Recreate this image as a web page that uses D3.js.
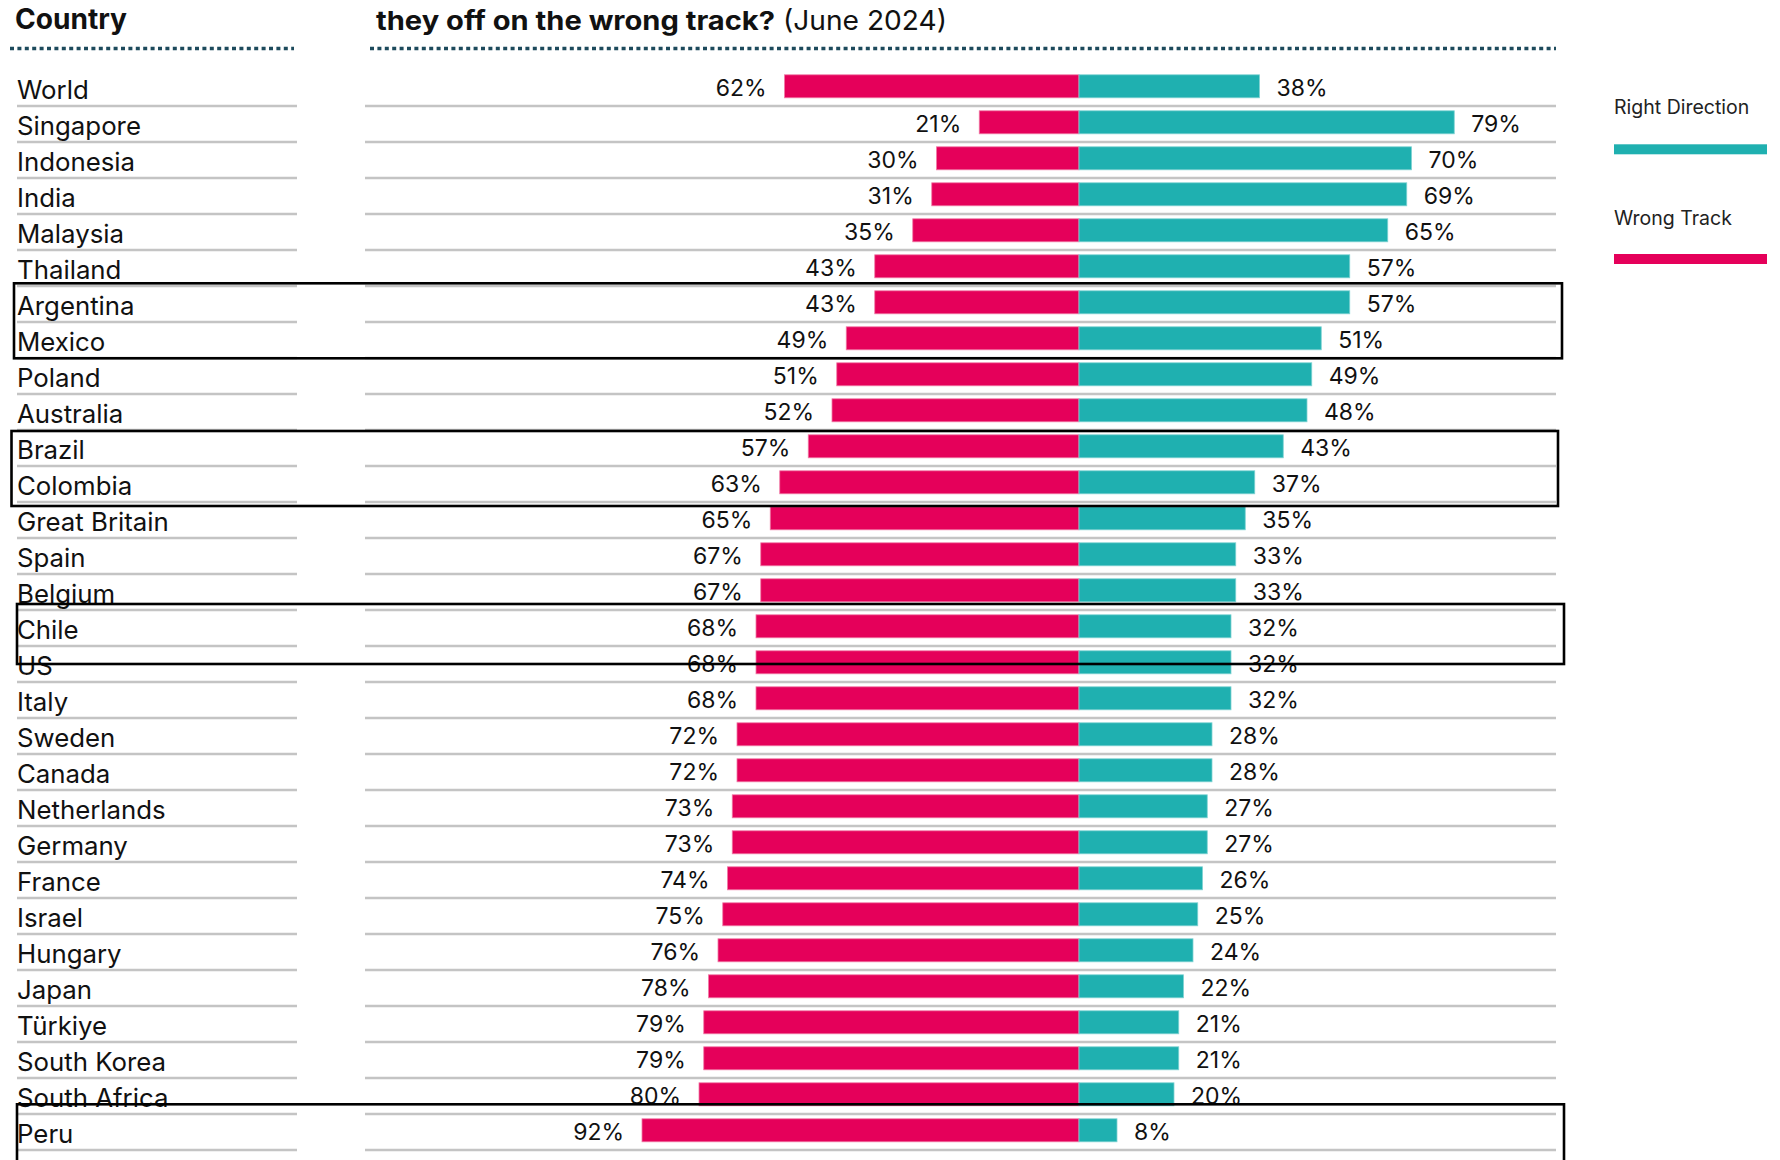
<!DOCTYPE html>
<html>
<head>
<meta charset="utf-8">
<script src="https://cdn.jsdelivr.net/npm/d3@7"></script>
<style>
  html, body { margin: 0; padding: 0; background: #ffffff; }
  svg { display: block; }
  text { font-family: Inter, Roboto, "Noto Sans", sans-serif; }
</style>
</head>
<body>
<script>
// ---------------- data ----------------
const countries = ["World","Singapore","Indonesia","India","Malaysia","Thailand","Argentina","Mexico","Poland","Australia","Brazil","Colombia","Great Britain","Spain","Belgium","Chile","US","Italy","Sweden","Canada","Netherlands","Germany","France","Israel","Hungary","Japan","Türkiye","South Korea","South Africa","Peru"];
const wrongTrack     = [62,21,30,31,35,43,43,49,51,52,57,63,65,67,67,68,68,68,72,72,73,73,74,75,76,78,79,79,80,92];
const rightDirection = [38,79,70,69,65,57,57,51,49,48,43,37,35,33,33,32,32,32,28,28,27,27,26,25,24,22,21,21,20,8];
const seriesNames = ["Right Direction", "Wrong Track"];
const headerLeft = "Country";
const titleBold = "they off on the wrong track?";
const titleRegular = "(June 2024)";
// highlighted groups (first and last country of each box)
const highlights = [["Argentina","Mexico"],["Brazil","Colombia"],["Chile","US"],["Peru","Peru"]];

// ---------------- drawing ----------------
const W = 1780, H = 1160;
const RED = "#e5005a", TEAL = "#1fb0b0";
const svg = d3.select("body").append("svg").attr("width", W).attr("height", H);

const step = 36;
const y = d3.scaleBand().domain(countries).range([68.3, 68.3 + step * countries.length]).padding(0);
const cy = c => y(c) + step / 2;
const centerX = 1079;
const x = d3.scaleLinear().domain([0, 100]).range([0, 475]);
const barH = 23;

const rows = countries.map((c, i) => ({ c, w: wrongTrack[i], r: rightDirection[i] }));

// header
svg.append("text").attr("x", 15).attr("y", 29).attr("font-size", 28).attr("font-weight", 700)
  .attr("fill", "#111").attr("textLength", 112).attr("lengthAdjust", "spacingAndGlyphs").text(headerLeft);
svg.append("text").attr("x", 376).attr("y", 30).attr("font-size", 26).attr("font-weight", 700)
  .attr("fill", "#111").attr("textLength", 399).attr("lengthAdjust", "spacingAndGlyphs").text(titleBold);
svg.append("text").attr("x", 783).attr("y", 30).attr("font-size", 27).attr("font-weight", 400)
  .attr("fill", "#111").attr("textLength", 164).attr("lengthAdjust", "spacingAndGlyphs").text(titleRegular);

// dotted rules
[[10, 294], [370, 1556]].forEach(([a, b]) => {
  svg.append("line").attr("x1", a).attr("x2", b).attr("y1", 48.5).attr("y2", 48.5)
    .attr("stroke", "#1d4a5c").attr("stroke-width", 3.5).attr("stroke-dasharray", "4,3.4");
});

// separators
const g = svg.append("g");
g.selectAll("line.sepL").data(rows).join("line").attr("class", "sepL")
  .attr("x1", 17).attr("x2", 297)
  .attr("y1", d => cy(d.c) + 19.7).attr("y2", d => cy(d.c) + 19.7)
  .attr("stroke", "#c4c4c4").attr("stroke-width", 2.5);
g.selectAll("line.sepR").data(rows).join("line").attr("class", "sepR")
  .attr("x1", 365).attr("x2", 1556)
  .attr("y1", d => cy(d.c) + 19.7).attr("y2", d => cy(d.c) + 19.7)
  .attr("stroke", "#c4c4c4").attr("stroke-width", 2.5);

// country labels
g.selectAll("text.lab").data(rows).join("text").attr("class", "lab")
  .attr("x", 17).attr("y", d => cy(d.c) + 12.7)
  .attr("font-size", 25.8).attr("fill", "#111").text(d => d.c);

// bars
g.selectAll("rect.wt").data(rows).join("rect").attr("class", "wt")
  .attr("x", d => centerX - x(d.w)).attr("width", d => x(d.w))
  .attr("y", d => cy(d.c) - barH / 2).attr("height", barH)
  .attr("fill", RED).attr("stroke", "#f07aa6").attr("stroke-width", 0.8);
g.selectAll("rect.rd").data(rows).join("rect").attr("class", "rd")
  .attr("x", centerX).attr("width", d => x(d.r))
  .attr("y", d => cy(d.c) - barH / 2).attr("height", barH)
  .attr("fill", TEAL).attr("stroke", "#7fd3d3").attr("stroke-width", 0.8);

// value labels
g.selectAll("text.wv").data(rows).join("text").attr("class", "wv")
  .attr("x", d => centerX - x(d.w) - 18).attr("y", d => cy(d.c) + 9.7)
  .attr("text-anchor", "end").attr("font-size", 23).attr("fill", "#111")
  .text(d => d.w + "%");
g.selectAll("text.rv").data(rows).join("text").attr("class", "rv")
  .attr("x", d => centerX + x(d.r) + 17).attr("y", d => cy(d.c) + 9.7)
  .attr("font-size", 23).attr("fill", "#111")
  .text(d => d.r + "%");

// legend
const leg = svg.append("g");
const legItems = [{ name: seriesNames[0], color: TEAL, ty: 114, by: 144.3 }, { name: seriesNames[1], color: RED, ty: 225, by: 254 }];
leg.selectAll("text").data(legItems).join("text")
  .attr("x", 1614).attr("y", d => d.ty).attr("font-size", 19.5).attr("fill", "#222").text(d => d.name);
leg.selectAll("rect").data(legItems).join("rect")
  .attr("x", 1614).attr("width", 153).attr("y", d => d.by).attr("height", 10).attr("fill", d => d.color);

// highlight boxes (hand-drawn annotation offsets)
const boxGeom = [
  { x0: 14, x1: 1562, dt: -19, db: 20 },
  { x0: 11.5, x1: 1558, dt: -15.3, db: 23.7 },
  { x0: 17, x1: 1564, dt: -22.3, db: 1.7 },
  { x0: 17, x1: 1564, dt: -26, db: 60 }
];
svg.append("g").selectAll("rect").data(highlights).join("rect")
  .attr("x", (d, i) => boxGeom[i].x0)
  .attr("width", (d, i) => boxGeom[i].x1 - boxGeom[i].x0)
  .attr("y", (d, i) => cy(d[0]) + boxGeom[i].dt)
  .attr("height", (d, i) => cy(d[1]) + boxGeom[i].db - (cy(d[0]) + boxGeom[i].dt))
  .attr("fill", "none").attr("stroke", "#000").attr("stroke-width", 2.6);
</script>
</body>
</html>
